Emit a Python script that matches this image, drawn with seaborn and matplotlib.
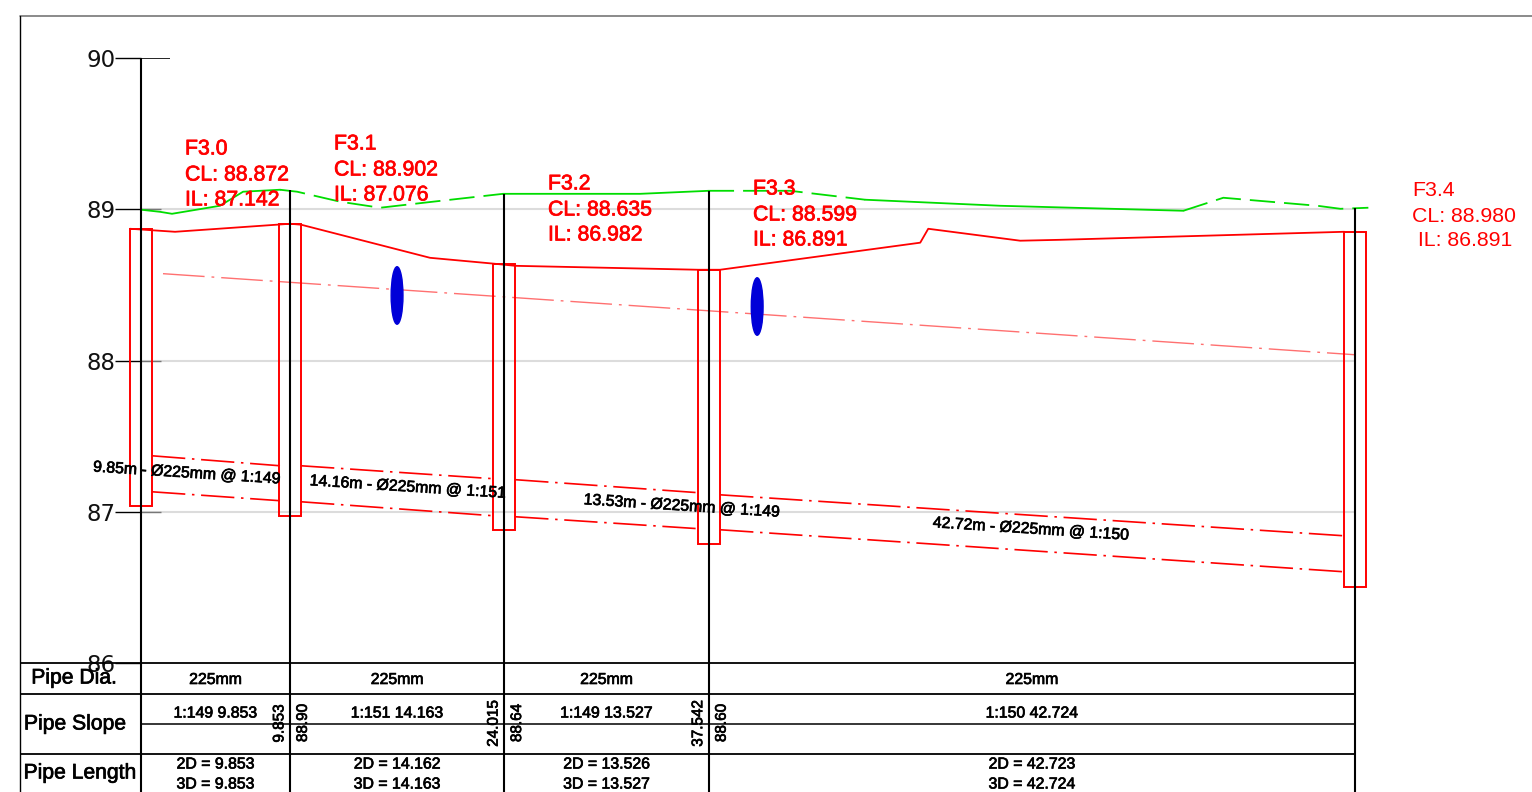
import matplotlib
matplotlib.use("Agg")
import matplotlib.pyplot as plt
import matplotlib.patheffects as pe
from matplotlib.lines import Line2D
from matplotlib.patches import Ellipse
import pandas as pd
import seaborn as sns

# Long section data: chainage in metres, levels in metres
mh_names = ["F3.0", "F3.1", "F3.2", "F3.3", "F3.4"]
mh_chainage = [0, 9.853, 24.015, 37.542, 80.266]
mh_cl = ["88.872", "88.902", "88.635", "88.599", "88.980"]
mh_il = ["87.142", "87.076", "86.982", "86.891", "86.891"]
mh_top = [88.871, 88.902, 88.640, 88.600, 88.851]
mh_bottom = [87.040, 86.970, 86.880, 86.790, 86.500]
stem_top = [90.0, 89.129, 89.102, 89.122, 89.010]

ground_x = [0, 1.26, 2.05, 5.22, 6.75, 9.19, 10.32, 13.16, 15.81, 19.31, 23.94,
            33.0, 37.54, 42.92, 47.88, 56.81, 68.92, 71.56, 77.78, 79.30, 81.15]
ground_y = [88.997, 88.983, 88.970, 89.023, 89.116, 89.129, 89.116, 89.050, 89.010,
            89.050, 89.102, 89.102, 89.122, 89.122, 89.063, 89.023, 88.990, 89.076,
            89.023, 89.003, 89.010]
# stretches of the ground line that print solid, the others print dashed
ground_solid = [(0, 6), (10, 13), (14, 17)]
ground_dashed = [(5, 11), (12, 15), (16, 21)]

surface_x = [-0.73, 2.25, 9.85, 10.58, 19.11, 23.35, 24.74, 36.84, 38.29, 51.52,
             52.05, 58.13, 60.78, 79.56]
surface_y = [88.871, 88.851, 88.904, 88.898, 88.679, 88.640, 88.626, 88.600, 88.600,
             88.779, 88.871, 88.792, 88.798, 88.851]

pipe_id = [1, 1, 2, 2, 3, 3, 4, 4]
pipe_x = [0.73, 9.19, 10.58, 23.35, 24.74, 36.84, 38.29, 79.56]
crown_y = [87.370, 87.304, 87.304, 87.218, 87.212, 87.126, 87.112, 86.841]
invert_y = [87.132, 87.073, 87.066, 86.973, 86.967, 86.888, 86.881, 86.603]

hgl_x = [1.455, 80.266]
hgl_y = [88.574, 88.038]

blob_x = [16.93, 40.74]
blob_y = [88.430, 88.357]

levels = [86, 87, 88, 89, 90]
grid_levels = [87, 88, 89]

pipe_labels = ["9.85m - Ø225mm @ 1:149", "14.16m - Ø225mm @ 1:151",
               "13.53m - Ø225mm @ 1:149", "42.72m - Ø225mm @ 1:150"]
pipe_dia = ["225mm", "225mm", "225mm", "225mm"]
slope_text = ["1:149 9.853", "1:151 14.163", "1:149 13.527", "1:150 42.724"]
len_2d = ["2D = 9.853", "2D = 14.162", "2D = 13.526", "2D = 42.723"]
len_3d = ["3D = 9.853", "3D = 14.163", "3D = 13.527", "3D = 42.724"]
chain_text = ["9.853", "24.015", "37.542"]
level_text = ["88.90", "88.64", "88.60"]

W, H = 1532, 792
RED = "#ff0000"
GREEN = "#00dd00"

sns.set_theme(style="white")
plt.rcParams["font.family"] = ["Liberation Sans", "DejaVu Sans"]

fig = plt.figure(figsize=(W / 100, H / 100), dpi=100, facecolor="white")
ax = fig.add_axes([141 / W, (H - 663) / H, (1355 - 141) / W, (663 - 58) / H])
tab = fig.add_axes([141 / W, 0, (1355 - 141) / W, (H - 663) / H])


def fx(px):
    return px / W


def fy(py):
    return 1 - py / H


# main profile
ax.hlines(grid_levels, 0, mh_chainage[-1], color="#dcdcdc", lw=1.5, zorder=1)
ax.hlines(grid_levels, 0, 1.3, color="#777777", lw=1.0, zorder=1.5)
ax.hlines(levels[-1], 0, 1.9, color="black", lw=1.2, zorder=1.5)

for a, b in ground_solid:
    sns.lineplot(x=ground_x[a:b], y=ground_y[a:b], ax=ax, color=GREEN, lw=1.3, legend=False,
                 estimator=None, sort=False, clip_on=False)
for a, b in ground_dashed:
    sns.lineplot(x=ground_x[a:b], y=ground_y[a:b], ax=ax, color=GREEN, lw=1.3, legend=False,
                 estimator=None, sort=False, linestyle=(0, (14, 5)), clip_on=False)
sns.lineplot(x=surface_x, y=surface_y, ax=ax, color=RED, lw=1.3, legend=False,
             estimator=None, sort=False, clip_on=False)
sns.lineplot(x=hgl_x, y=hgl_y, ax=ax, color="#ff7070", lw=1.0, legend=False,
             estimator=None, sort=False, linestyle=(0, (30, 5, 2, 5)))

pipes = pd.DataFrame({"pipe": pipe_id, "x": pipe_x, "crown": crown_y, "invert": invert_y})
for col in ["crown", "invert"]:
    sns.lineplot(data=pipes, x="x", y=col, units="pipe", estimator=None, sort=False, ax=ax,
                 color=RED, lw=1.2, legend=False, linestyle=(0, (20, 4, 1.5, 4)))

heights = [t - b for t, b in zip(mh_top, mh_bottom)]
ax.bar(mh_chainage, heights, bottom=mh_bottom, width=1.45, fill=False, edgecolor=RED,
       lw=1.4, zorder=3, clip_on=False)
ax.vlines(mh_chainage, levels[0], stem_top, color="black", lw=1.5, zorder=4, clip_on=False)

for bx, by in zip(blob_x, blob_y):
    ax.add_patch(Ellipse((bx, by), 0.78, 0.38, color="#0000d8", zorder=5))

ax.set_xlim(0, mh_chainage[-1])
ax.set_ylim(levels[0], levels[-1])
ax.set_yticks(levels)
ax.set_xticks([])
ax.set_xlabel("")
ax.set_ylabel("")
ax.tick_params(axis="y", left=True, length=18.5, width=1.0, pad=0, labelsize=16.5, color="black",
               labelcolor="#111111")
for t in ax.get_yticklabels():
    t.set_family("DejaVu Sans")
for name in ["top", "right", "bottom", "left"]:
    ax.spines[name].set_visible(False)
ax.patch.set_alpha(0)

# red manhole labels
label_px = [(185, 149), (334, 144), (548, 184), (753, 189), (1412, 190)]
red_stroke = [pe.withStroke(linewidth=0.5, foreground=RED)]
for (lx, ly), n, cl, il in zip(label_px, mh_names, mh_cl, mh_il):
    last = n == "F3.4"
    pad = " " if last else ""
    effects = [] if last else red_stroke
    fig.text(fx(lx), fy(ly), n, color=RED, fontsize=15.3, ha="left", va="center", path_effects=effects)
    fig.text(fx(lx), fy(ly + 26), f"CL: {cl}", color=RED, fontsize=15.3, ha="left", va="center",
             path_effects=effects)
    fig.text(fx(lx), fy(ly + 51), f"{pad}IL: {il}", color=RED, fontsize=15.3, ha="left", va="center",
             path_effects=effects)

# labels along the pipes
stroke = [pe.withStroke(linewidth=0.5, foreground="black")]
pipe_label_px = [(187, 473), (408, 487), (682, 506), (1031, 529)]
for (lx, ly), s in zip(pipe_label_px, pipe_labels):
    fig.text(fx(lx), fy(ly), s, fontsize=11.4, color="black", ha="center", va="center",
             rotation=-3.7, rotation_mode="anchor", path_effects=stroke)

# table under the profile
tab.set_xlim(0, mh_chainage[-1])
tab.set_ylim(H - 663, 0)
tab.axis("off")
rows = [0, 30.5, 90.5]
tab.hlines(rows, -8.0, mh_chainage[-1], color="black", lw=1.3, clip_on=False)
tab.hlines(60.5, 0, mh_chainage[-1], color="black", lw=1.1)
tab.vlines(mh_chainage, 0, H - 663, color="black", lw=1.5, clip_on=False)

mids = [(a + b) / 2 for a, b in zip(mh_chainage[:-1], mh_chainage[1:])]
for m, d, s, l2, l3 in zip(mids, pipe_dia, slope_text, len_2d, len_3d):
    tab.text(m, 16.5, d, ha="center", va="center", fontsize=11.4, color="black", path_effects=stroke)
    tab.text(m, 50, s, ha="center", va="center", fontsize=11.4, color="black", path_effects=stroke)
    tab.text(m, 101, l2, ha="center", va="center", fontsize=11.4, color="black", path_effects=stroke)
    tab.text(m, 121, l3, ha="center", va="center", fontsize=11.4, color="black", path_effects=stroke)

for c, s, l in zip(mh_chainage[1:4], chain_text, level_text):
    tab.text(c - 0.7, 60.5, s, ha="center", va="center", rotation=90, fontsize=11, color="black",
             path_effects=stroke)
    tab.text(c + 0.85, 60, l, ha="center", va="center", rotation=90, fontsize=11, color="black",
             path_effects=stroke)

for s, lx, ly in [("Pipe Dia.", 74, 678), ("Pipe Slope", 75, 724), ("Pipe Length", 80, 773)]:
    fig.text(fx(lx), fy(ly), s, fontsize=15.2, color="black", ha="center", va="center",
             path_effects=stroke)

# drawing border
fig.add_artist(Line2D([fx(20), fx(W)], [fy(16), fy(16)], color="#777777", lw=1.2))
fig.add_artist(Line2D([fx(20), fx(20)], [fy(16), 0], color="black", lw=1.0))

fig.savefig("out.png", dpi=100)
